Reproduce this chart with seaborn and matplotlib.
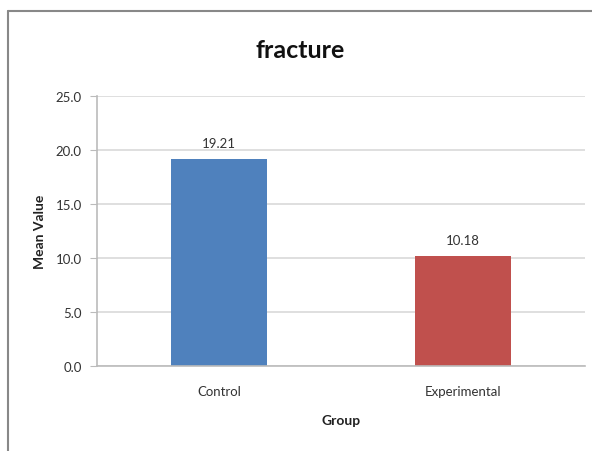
import pandas as pd
import matplotlib.pyplot as plt
import seaborn as sns
from matplotlib.lines import Line2D

# Data from the image
groups = ['Control', 'Experimental']
means = [19.21, 10.18]
bar_colors = ['#4F81BD', '#C0504D']

df = pd.DataFrame({'Group': groups, 'Mean Value': means})

sns.set_style("white")
plt.rcParams['font.family'] = ['Lato', 'DejaVu Sans']

fig = plt.figure(figsize=(5.92, 4.52), dpi=100)
ax = fig.add_axes([97 / 592, 1 - 367 / 452, 488 / 592, 270 / 452])

sns.barplot(data=df, x='Group', y='Mean Value', hue='Group', palette=bar_colors,
            width=0.39, legend=False, ax=ax, saturation=1, linewidth=0)

# value labels
for i, v in enumerate(means):
    ax.text(i, v + 0.9, f'{v:.2f}', ha='center', va='bottom', fontsize=9.5, color='#333333')

ax.set_xlim(-0.5, 1.5)
ax.set_ylim(0, 25)
ax.set_yticks([0, 5, 10, 15, 20, 25])
ax.set_yticklabels([f'{t:.1f}' for t in [0, 5, 10, 15, 20, 25]], fontsize=9.5, color='#333333')
ax.tick_params(axis='x', labelsize=9.5, colors='#333333', length=0, pad=14)
ax.tick_params(axis='y', length=5, color='#BBBBBB', pad=6, left=True)
ax.yaxis.grid(True, color='#D9D9D9', linewidth=1.2)
ax.set_axisbelow(True)

for s in ['top', 'right']:
    ax.spines[s].set_visible(False)
for s in ['left', 'bottom']:
    ax.spines[s].set_color('#BBBBBB')
    ax.spines[s].set_linewidth(1.2)

ax.set_xlabel('Group', fontsize=10, fontweight='bold', color='#222222', labelpad=12)
ax.set_ylabel('Mean Value', fontsize=10, fontweight='bold', color='#222222', labelpad=7)
fig.text(300 / 592, 1 - 50 / 452, 'fracture', ha='center', va='center',
         fontsize=18, fontweight='bold', color='#111111')

# outer chart frame
fig.add_artist(Line2D([8 / 592, 8 / 592], [0, 1 - 12 / 452], transform=fig.transFigure,
                      color='#888888', linewidth=1.5))
fig.add_artist(Line2D([8 / 592, 1], [1 - 12 / 452, 1 - 12 / 452], transform=fig.transFigure,
                      color='#888888', linewidth=1.5))

plt.savefig('out.png', dpi=100)
